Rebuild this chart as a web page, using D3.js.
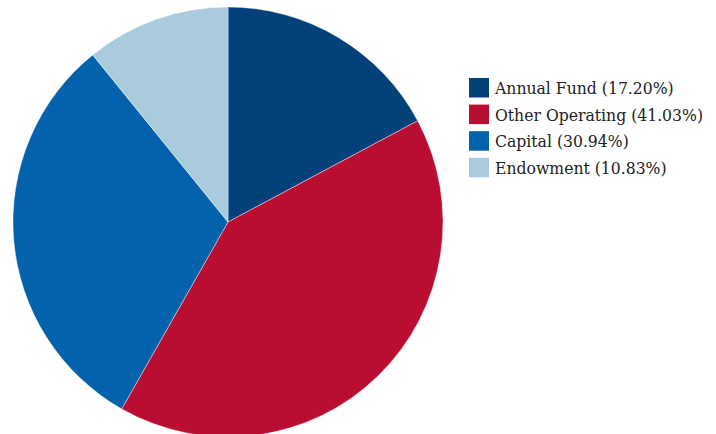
<!DOCTYPE html>
<html><head><meta charset="utf-8">
<script src="https://cdn.jsdelivr.net/npm/d3@7"></script>
<style>html,body{margin:0;padding:0;background:#fff;}</style>
</head><body>
<svg id="chart" width="716" height="434"></svg>
<script>
const categories = ["Annual Fund", "Other Operating", "Capital", "Endowment"];
const values = [17.20, 41.03, 30.94, 10.83];
const colors = ["#03417A", "#B90E32", "#0262AC", "#A9CBDC"];

const svg = d3.select("#chart");
const cx = 228, cy = 222, r = 215;
const data = categories.map((c, i) => ({name: c, value: values[i], color: colors[i]}));
const pie = d3.pie().value(d => d.value).sort(null);
const arc = d3.arc().innerRadius(0).outerRadius(r);
const g = svg.append("g").attr("transform", `translate(${cx},${cy})`);
g.selectAll("path").data(pie(data)).enter().append("path")
  .attr("d", arc).attr("fill", d => d.data.color)
  .attr("stroke", "#fff").attr("stroke-width", 0.4);

const leg = svg.append("g").attr("transform", "translate(469,78)");
const rows = leg.selectAll("g").data(data).enter().append("g")
  .attr("transform", (d, i) => `translate(0,${i * 26.6})`);
rows.append("rect").attr("width", 20).attr("height", 19.5).attr("fill", d => d.color);
rows.append("text").attr("x", 26).attr("y", 10).attr("dy", "0.36em")
  .attr("font-family", "DejaVu Serif Condensed, DejaVu Serif, serif")
  .attr("font-size", 17.4).attr("fill", "#222")
  .text(d => `${d.name} (${d.value.toFixed(2)}%)`);
</script>
</body></html>
